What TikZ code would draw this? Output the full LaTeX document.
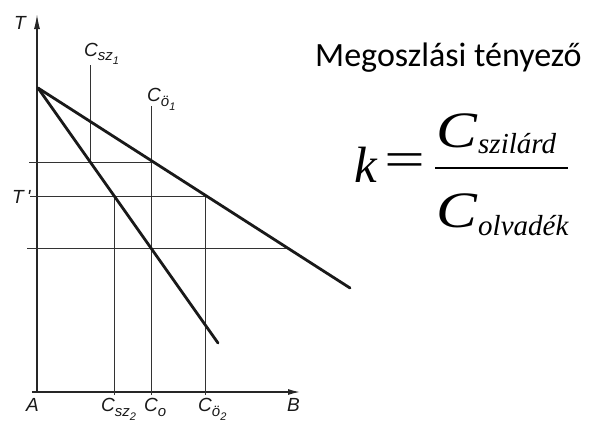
\documentclass[tikz,border=0pt]{standalone}
\usepackage{fontspec}
\setmainfont{Liberation Serif}
\newfontfamily\cimfont{Carlito}
\newfontfamily\jelfont{Liberation Sans}
\usetikzlibrary{arrows.meta}

% koncentracio felirat: C, also index, index indexe
\newcommand{\konc}[2]{C\raisebox{-5pt}{\fontsize{15}{15}\selectfont #1\raisebox{-4pt}{\fontsize{11}{11}\selectfont #2}}}

\begin{document}
\begin{tikzpicture}[
    x=1pt, y=-1pt,   % kep-koordinatak, y lefele
    tengely/.style={draw=black!85, line width=1.4pt},
    segedvonal/.style={draw=black!80, line width=1pt},
    vonal/.style={draw=black!90, line width=2.8pt, line cap=round},
    felirat/.style={font=\jelfont\itshape\fontsize{19}{19}\selectfont, inner sep=0pt, anchor=base west, text=black!90},
    kepletbetu/.style={font=\itshape\fontsize{51}{51}\selectfont, inner sep=0pt, anchor=base west},
    kepletindex/.style={font=\itshape\fontsize{29}{29}\selectfont, inner sep=0pt, anchor=base west}
]
    \useasboundingbox (0,0) rectangle (605,423);

    % =========================================================================
    % 1. TENGELYEK
    % =========================================================================
    \coordinate (A) at (37,392);
    \coordinate (Tcsucs) at (37,14);
    \coordinate (Bcsucs) at (300,392);
    \draw[tengely, -{Latex[length=15pt,width=6pt]}] (A) -- (Tcsucs);
    \draw[tengely, -{Latex[length=12pt,width=6pt]}] (32,392) -- (Bcsucs);

    % =========================================================================
    % 2. SEGEDVONALAK (homersekletek es koncentraciok)
    % =========================================================================
    \draw[segedvonal] (29,162) -- (153,162);
    \draw[segedvonal] (30,196) -- (206,196);
    \draw[segedvonal] (27,248) -- (290,248);

    \draw[segedvonal] (90,65) -- (90,162);
    \draw[segedvonal] (151,106) -- (151,395);
    \draw[segedvonal] (114,196) -- (114,395);
    \draw[segedvonal] (205,196) -- (205,395);

    % =========================================================================
    % 3. SZILARDUS ES LIKVIDUS
    % =========================================================================
    \coordinate (P) at (38,88);
    \coordinate (Sveg) at (218,343);
    \coordinate (Lveg) at (350,288);
    \draw[vonal] (P) -- (Sveg);
    \draw[vonal] (P) -- (Lveg);

    % Feliratok
    \node[felirat] (T) at (14,29) {T};
    \node[felirat] (Tv) at (12,203) {T\,'};
    \node[felirat] (Csz1) at (84,56) {\konc{sz}{1}};
    \node[felirat] (Co1) at (147,101) {\konc{ö}{1}};
    \node[felirat] (Alab) at (26,411) {A};
    \node[felirat] (Csz2) at (101,411) {\konc{sz}{2}};
    \node[felirat] (C0) at (144,411) {C\raisebox{-5pt}{\fontsize{15}{15}\selectfont o}};
    \node[felirat] (Co2) at (198,411) {\konc{ö}{2}};
    \node[felirat] (Blab) at (287,411) {B};

    % =========================================================================
    % 4. MEGOSZLASI TENYEZO
    % =========================================================================
    \node[font=\cimfont\fontsize{34}{34}\selectfont, inner sep=0pt, anchor=base west] (cim) at (315,66) {Megoszlási tényező};

    \node[kepletbetu] (k) at (354,182) {k};
    \node[font=\fontsize{50}{50}\selectfont, inner sep=0pt] (egyenlo) at (405,165) {\scalebox{1.45}[1]{=}};
    \coordinate (torbal) at (435,168);
    \coordinate (torjobb) at (568,168);
    \draw[line width=2.2pt] (torbal) -- (torjobb);
    \node[kepletbetu] (Cszam) at (436,147) {\scalebox{1.2}[1]{C}};
    \node[kepletindex] (szilard) at (478,153) {szilárd};
    \node[kepletbetu] (Cnev) at (436,227) {\scalebox{1.2}[1]{C}};
    \node[kepletindex] (olvadek) at (478,235) {olvadék};

\end{tikzpicture}
\end{document}
